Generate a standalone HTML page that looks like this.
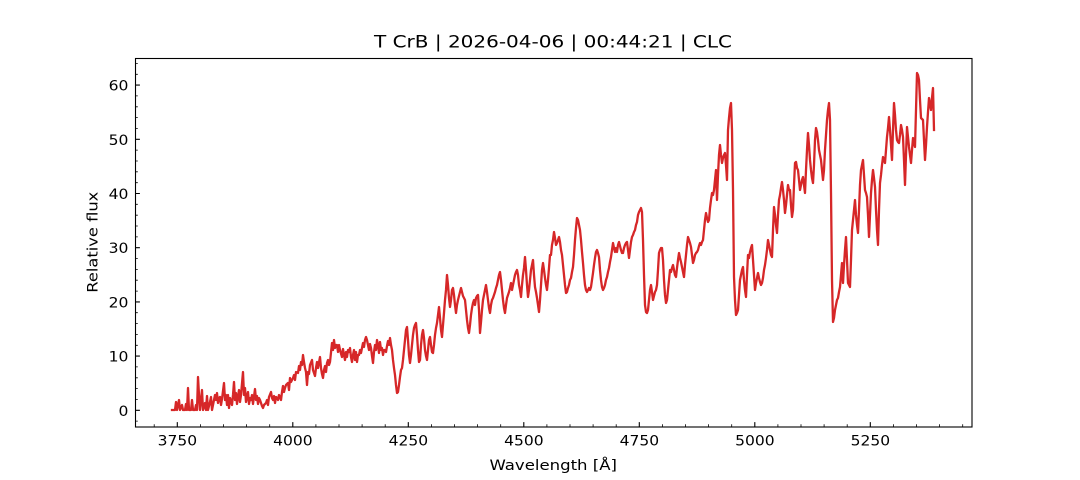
<!DOCTYPE html>
<html><head><meta charset="utf-8"><style>
html,body{margin:0;padding:0;background:#fff;}
svg{display:block;}
text{font-family:"DejaVu Sans","Liberation Sans",sans-serif;fill:#000;}
</style></head><body>
<svg width="1080" height="480" viewBox="0 0 1080 480" xmlns="http://www.w3.org/2000/svg">
<rect width="1080" height="480" fill="#fff"/>
<text x="374" y="47.5" font-size="16.7" textLength="358" lengthAdjust="spacingAndGlyphs">T CrB | 2026-04-06 | 00:44:21 | CLC</text>
<defs><clipPath id="c"><rect x="135" y="58" width="837" height="369"/></clipPath></defs>
<polyline clip-path="url(#c)" fill="none" stroke="#d62728" stroke-width="2.3" stroke-linejoin="round" stroke-linecap="square" points="172,410 175,410 176,402 177,410 179,400 180,410 182,405 183,410 185,410 186,404 187,410 188,388 189,410 191,410 192,400 193,410 195,410 196,405 197,410 198,377 199,395 200,410 202,390 203,410 205,403 206,410 207,396 208,410 210,402 211,397 212,410 213,405 215,395 216,400 217,393 218,403 219,398 220,397 221,405 222,399 224,383 225,400 226,395 227,405 228,395 229,408 230,398 232,405 233,395 234,382 235,400 236,393 237,404 238,397 239,390 240,402 241,395 243,372 244,395 245,388 246,402 247,397 248,392 249,404 250,398 251,400 252,395 253,404 255,389 256,400 257,396 258,404 259,398 260,400 261,403 262,406 263,408 264,405 266,403 267,400 268,405 269,397 271,392 272,398 273,400 274,396 275,403 276,397 277,398 278,400 279,395 280,397 281,400 282,392 283,386 284,392 285,388 286,385 288,383 289,390 290,378 291,382 293,378 294,375 295,380 296,372 298,373 299,366 300,370 301,362 302,365 303,355 304,362 305,368 306,372 307,385 308,372 309,374 310,365 312,360 313,370 315,376 316,368 317,362 318,368 320,357 321,368 322,374 323,378 324,370 325,366 326,372 327,363 328,360 329,365 330,362 332,343 333,350 334,340 335,348 336,345 337,345 338,352 339,345 340,350 342,357 343,349 344,355 345,360 346,352 347,357 348,350 349,352 350,348 351,357 352,362 353,355 354,350 355,360 356,352 357,362 358,355 359,355 360,350 361,353 362,348 363,343 364,347 365,340 366,337 367,340 368,345 369,350 370,344 371,348 372,356 373,363 374,352 375,345 376,350 377,340 378,345 379,353 380,342 381,350 382,348 383,355 384,350 385,350 386,352 387,346 388,341 389,345 390,338 391,345 392,350 393,360 394,368 395,375 396,385 397,393 398,392 399,385 400,377 401,370 402,368 403,360 404,350 405,340 406,330 407,327 408,340 409,355 410,363 411,355 412,345 413,335 414,328 415,325 416,323 417,335 418,350 419,362 420,360 421,345 422,335 423,330 424,338 425,350 426,356 427,360 428,350 429,340 430,337 431,345 432,352 433,353 434,345 435,335 436,328 437,323 438,315 439,307 440,318 441,330 442,337 443,325 444,313 445,300 446,290 447,275 448,285 449,298 450,307 451,300 452,290 453,288 454,295 455,305 456,313 457,305 458,300 459,296 460,292 461,288 462,292 463,296 464,298 465,300 466,310 467,320 468,328 469,333 470,325 471,315 472,308 473,303 474,300 475,305 476,298 477,296 478,295 479,310 480,333 481,322 482,310 483,300 484,295 485,290 486,285 487,292 488,300 489,308 490,313 491,305 492,300 493,298 494,295 495,292 496,288 497,285 498,280 499,275 500,272 501,280 502,290 503,300 504,308 505,313 506,305 507,298 508,295 509,292 510,288 511,283 512,290 513,285 514,280 515,275 516,272 517,270 518,275 519,285 520,290 521,297 522,285 523,275 524,268 525,257 526,270 527,285 528,297 529,290 530,280 531,270 532,265 533,260 534,275 535,287 536,292 537,298 538,305 539,312 540,300 541,285 542,270 543,263 544,270 545,278 546,285 547,290 548,280 549,268 550,255 551,255 552,245 553,240 554,232 555,238 556,245 557,243 558,240 559,237 560,242 561,250 562,255 563,265 564,275 565,285 566,293 567,292 568,288 569,285 570,280 571,278 572,272 573,267 574,255 575,240 576,228 577,218 578,220 579,225 580,230 581,240 582,252 583,263 584,275 585,285 586,290 587,292 588,290 589,288 590,290 591,287 592,280 593,273 594,265 595,258 596,252 597,250 598,253 599,257 600,270 601,280 602,287 603,290 604,288 605,285 606,280 607,277 608,272 609,268 610,262 611,257 612,250 613,243 614,248 615,252 616,248 617,252 618,245 619,242 620,246 621,250 622,253 623,253 624,248 625,245 626,243 627,242 628,250 629,258 630,250 631,242 632,237 633,235 634,232 635,230 636,225 637,222 638,215 639,212 640,210 641,208 642,212 643,240 644,275 645,305 646,312 647,313 648,310 649,300 650,290 651,285 652,292 653,300 654,296 655,292 656,290 657,285 658,270 659,253 660,250 661,248 662,248 663,260 664,280 665,295 666,303 667,300 668,290 669,280 670,270 671,272 672,268 673,265 674,270 675,275 676,277 677,268 678,260 679,253 680,258 681,262 682,267 683,272 684,277 685,265 686,255 687,245 688,237 689,240 690,243 691,247 692,255 693,263 694,260 695,255 696,253 697,252 698,250 699,246 700,243 701,245 702,242 703,240 704,230 705,220 706,213 707,218 708,222 709,220 710,208 711,200 712,193 713,195 714,190 715,180 716,170 717,200 718,175 719,155 720,145 721,155 722,163 723,158 724,155 725,153 726,165 727,180 728,130 729,118 730,108 731,103 732,130 733,190 734,277 735,300 736,315 737,313 738,310 739,295 740,280 741,275 742,270 743,267 744,280 745,290 746,297 747,275 748,255 749,258 750,252 751,248 752,245 753,260 754,275 755,290 756,283 757,278 758,273 759,278 760,282 761,285 762,283 763,278 764,270 765,265 766,258 767,250 768,240 769,245 770,250 771,255 772,257 773,230 774,207 775,215 776,225 777,233 778,215 779,200 780,195 781,188 782,182 783,190 784,200 785,213 786,205 787,195 788,185 789,190 790,190 791,205 792,217 793,210 794,185 795,163 796,162 797,168 798,170 799,180 800,190 801,185 802,180 803,177 804,185 805,193 806,170 807,150 808,133 809,145 810,160 811,170 812,178 813,183 814,165 815,140 816,128 817,132 818,140 819,150 820,155 821,160 822,170 823,180 824,170 825,150 826,135 827,120 828,110 829,103 830,120 831,193 832,280 833,322 834,318 835,310 836,305 837,300 838,298 839,292 840,287 841,275 842,263 843,283 844,265 845,250 846,237 847,260 848,283 849,285 850,287 851,260 852,230 853,220 854,210 855,200 856,215 857,225 858,233 859,210 860,185 861,170 862,165 863,160 864,175 865,190 866,193 867,197 868,215 869,237 870,215 871,193 872,180 873,170 874,178 875,187 876,210 877,230 878,245 879,210 880,183 881,175 882,165 883,157 884,160 885,163 886,150 887,137 888,128 889,117 890,130 891,145 892,160 893,130 894,103 895,115 896,130 897,140 898,142 899,143 900,135 901,125 902,130 903,137 904,160 905,185 906,155 907,127 908,137 909,147 910,155 911,163 912,150 913,138 914,143 915,147 916,110 917,73 918,75 919,80 920,100 921,118 922,119 923,120 924,140 925,160 926,145 927,127 928,112 929,98 930,104 931,110 932,98 933,88 934,130"/>
<!-- axes frame -->
<rect x="135.5" y="58.5" width="836.5" height="368.5" fill="none" stroke="#000" stroke-width="1.1"/>
<!-- x major ticks -->
<path stroke="#000" stroke-width="1.1" fill="none" d="M177.3 427v-4.9M292.8 427v-4.9M408.3 427v-4.9M523.8 427v-4.9M639.3 427v-4.9M754.8 427v-4.9M870.3 427v-4.9"/>
<!-- x minor ticks -->
<path stroke="#000" stroke-width="0.8" fill="none" d="M154.2 427v-2.8M200.4 427v-2.8M223.5 427v-2.8M246.6 427v-2.8M269.7 427v-2.8M315.9 427v-2.8M339 427v-2.8M362.1 427v-2.8M385.2 427v-2.8M431.4 427v-2.8M454.5 427v-2.8M477.6 427v-2.8M500.7 427v-2.8M546.9 427v-2.8M570 427v-2.8M593.1 427v-2.8M616.2 427v-2.8M662.4 427v-2.8M685.5 427v-2.8M708.6 427v-2.8M731.7 427v-2.8M777.9 427v-2.8M801 427v-2.8M824.1 427v-2.8M847.2 427v-2.8M893.4 427v-2.8M916.5 427v-2.8M939.6 427v-2.8M962.7 427v-2.8"/>
<!-- y major ticks -->
<path stroke="#000" stroke-width="1.1" fill="none" d="M135 410.3h4.9M135 356.1h4.9M135 301.9h4.9M135 247.7h4.9M135 193.5h4.9M135 139.3h4.9M135 85.1h4.9"/>
<!-- y minor ticks -->
<path stroke="#000" stroke-width="0.8" fill="none" d="M135 421.1h2.8M135 399.5h2.8M135 388.6h2.8M135 377.8h2.8M135 366.9h2.8M135 345.3h2.8M135 334.4h2.8M135 323.6h2.8M135 312.7h2.8M135 291.1h2.8M135 280.2h2.8M135 269.4h2.8M135 258.5h2.8M135 236.9h2.8M135 226h2.8M135 215.2h2.8M135 204.3h2.8M135 182.7h2.8M135 171.8h2.8M135 161h2.8M135 150.1h2.8M135 128.5h2.8M135 117.6h2.8M135 106.8h2.8M135 95.9h2.8M135 74.3h2.8M135 63.4h2.8"/>
<!-- x tick labels -->
<g font-size="13.9">
<text x="157.6" y="445.3" textLength="39.5" lengthAdjust="spacingAndGlyphs">3750</text>
<text x="273.1" y="445.3" textLength="39.5" lengthAdjust="spacingAndGlyphs">4000</text>
<text x="388.6" y="445.3" textLength="39.5" lengthAdjust="spacingAndGlyphs">4250</text>
<text x="504.1" y="445.3" textLength="39.5" lengthAdjust="spacingAndGlyphs">4500</text>
<text x="619.6" y="445.3" textLength="39.5" lengthAdjust="spacingAndGlyphs">4750</text>
<text x="735.1" y="445.3" textLength="39.5" lengthAdjust="spacingAndGlyphs">5000</text>
<text x="850.6" y="445.3" textLength="39.5" lengthAdjust="spacingAndGlyphs">5250</text>
</g>
<!-- y tick labels -->
<g font-size="13.9">
<text x="118.5" y="415.8" textLength="9.9" lengthAdjust="spacingAndGlyphs">0</text>
<text x="108.6" y="361.6" textLength="19.8" lengthAdjust="spacingAndGlyphs">10</text>
<text x="108.6" y="307.4" textLength="19.8" lengthAdjust="spacingAndGlyphs">20</text>
<text x="108.6" y="253.2" textLength="19.8" lengthAdjust="spacingAndGlyphs">30</text>
<text x="108.6" y="199" textLength="19.8" lengthAdjust="spacingAndGlyphs">40</text>
<text x="108.6" y="144.8" textLength="19.8" lengthAdjust="spacingAndGlyphs">50</text>
<text x="108.6" y="90.6" textLength="19.8" lengthAdjust="spacingAndGlyphs">60</text>
</g>
<text x="489.5" y="470" font-size="13.9" textLength="127.5" lengthAdjust="spacingAndGlyphs">Wavelength [Å]</text>
<text transform="translate(97.3,292.7) rotate(-90)" font-size="13.9" textLength="101" lengthAdjust="spacingAndGlyphs">Relative flux</text>
</svg>
</body></html>
